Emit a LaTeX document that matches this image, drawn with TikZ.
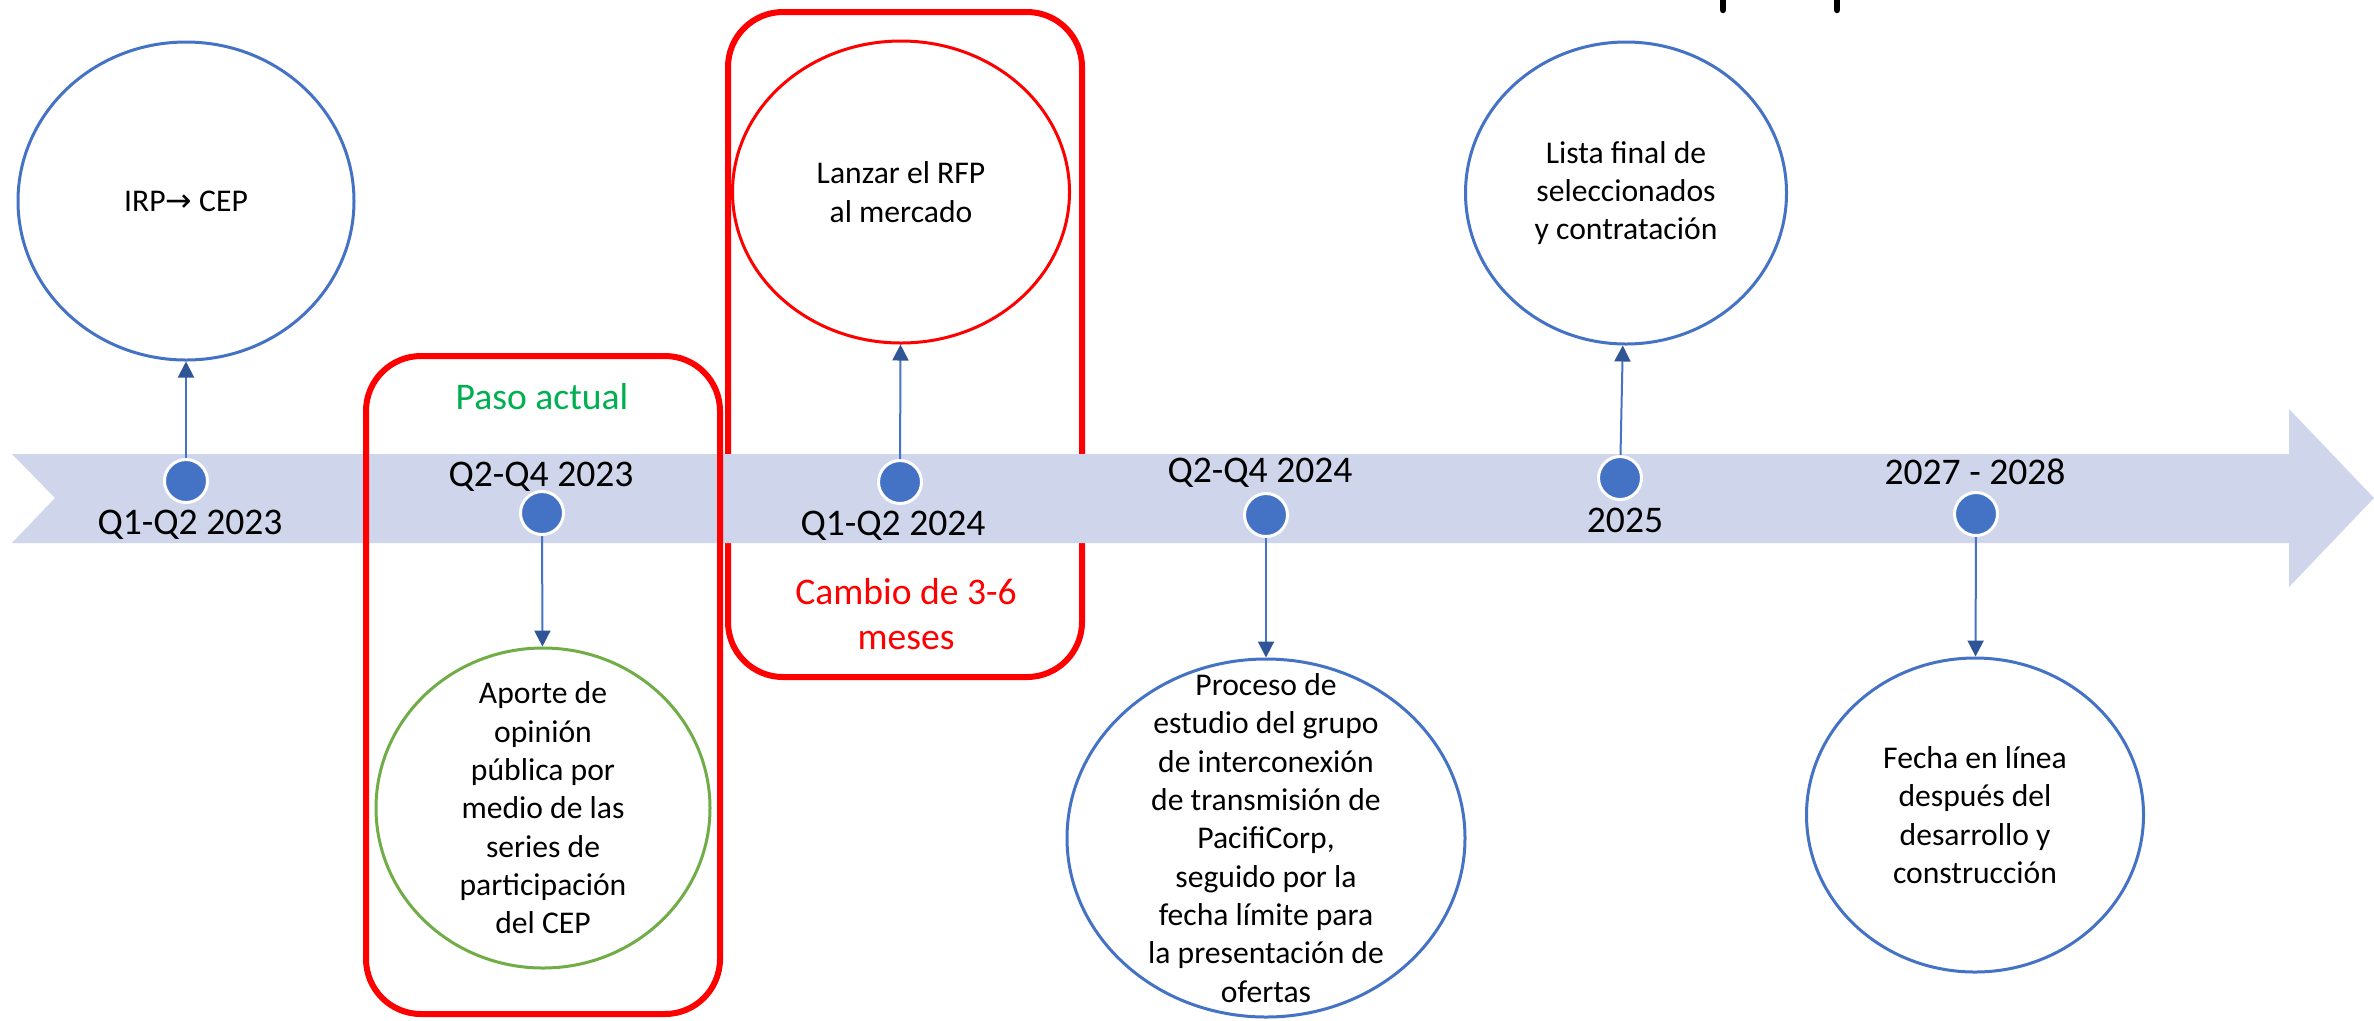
\documentclass[tikz,border=0pt]{standalone}
\usepackage{fontspec}
\setmainfont{Carlito}
\newfontfamily\djv{DejaVu Sans}
\usetikzlibrary{arrows.meta,shapes.geometric}
\definecolor{bandc}{HTML}{CFD5EA}
\definecolor{dotc}{HTML}{4472C4}
\definecolor{headc}{HTML}{2F5597}
\definecolor{redc}{HTML}{FF0000}
\definecolor{greenc}{HTML}{70AD47}
\definecolor{pasoc}{HTML}{00B050}
\begin{document}
\begin{tikzpicture}[x=0.1mm,y=-0.1mm,
  dotnode/.style={circle,fill=dotc,draw=white,line width=0.3mm,minimum size=4.3mm,inner sep=0pt},
  lbl/.style={anchor=base,inner sep=0pt,font=\fontsize{10.7}{12.8}\selectfont},
  ell/.style={ellipse,line width=0.3mm,inner sep=0pt},
  ctext/.style={align=center,inner sep=0pt,font=\fontsize{9}{10.9}\selectfont},
  conn/.style={draw=dotc,line width=0.2mm,-{Triangle[length=1.6mm,width=1.6mm,color=headc]}},
  redframe/.style={draw=redc,line width=0.6mm,rounded corners=5.5mm}]
\useasboundingbox (0,0) rectangle (2374,1020);
\fill[white] (0,0) rectangle (2374,1020);
% frame behind the band
\draw[redframe] (728,12) rectangle (1082,677);
% timeline band
\fill[bandc] (12,454) -- (2289,454) -- (2289,409) -- (2374,498) -- (2289,587)
  -- (2289,543) -- (12,543) -- (55,498) -- cycle;
% frame in front of the band
\draw[redframe] (366,356) rectangle (720,1014);
% cut-off strokes at the top
\draw[line width=0.65mm,line cap=round] (1723,-5) -- (1723,10);
\draw[line width=0.65mm,line cap=round] (1837,-5) -- (1837,10);
% dots
\node[dotnode] (d1) at (186,481) {};
\node[dotnode] (d2) at (542,513) {};
\node[dotnode] (d3) at (900,482) {};
\node[dotnode] (d4) at (1266,515) {};
\node[dotnode] (d5) at (1620,478) {};
\node[dotnode] (d6) at (1976,514) {};
% labels
\node[lbl] (l1) at (190,534) {Q1-Q2 2023};
\node[lbl] (l2) at (541,486) {Q2-Q4 2023};
\node[lbl] (l3) at (893,535) {Q1-Q2 2024};
\node[lbl] (l4) at (1260,482) {Q2-Q4 2024};
\node[lbl] (l5) at (1625,532) {2025};
\node[lbl] (l6) at (1975,484) {2027 - 2028};
\node[lbl,text=pasoc] (paso) at (542,409) {Paso actual};
\node[lbl,text=redc,align=center] (cambio) at (906,649) {Cambio de 3-6\\meses};
% ellipses
\node[ell,draw=dotc,minimum width=33.6mm,minimum height=31.8mm] (e1) at (186,201) {};
\node[ell,draw=greenc,minimum width=33.4mm,minimum height=32mm] (e2) at (543,808) {};
\node[ell,draw=redc,minimum width=33.7mm,minimum height=30.2mm] (e3) at (901,192) {};
\node[ell,draw=dotc,minimum width=39.8mm,minimum height=35.8mm] (e4) at (1266,838) {};
\node[ell,draw=dotc,minimum width=32.1mm,minimum height=30.2mm] (e5) at (1626,193) {};
\node[ell,draw=dotc,minimum width=33.7mm,minimum height=31.4mm] (e6) at (1975,815) {};
% ellipse texts
\node[ctext] (t1) at (e1) {IRP{\djv →} CEP};
\node[ctext] (t2) at (e2) {Aporte de\\opinión\\pública por\\medio de las\\series de\\participación\\del CEP};
\node[ctext] (t3) at (e3) {Lanzar el RFP\\al mercado};
\node[ctext] (t4) at (e4) {Proceso de\\estudio del grupo\\de interconexión\\de transmisión de\\PacifiCorp,\\seguido por la\\fecha límite para\\la presentación de\\ofertas};
\node[ctext] (t5) at (e5) {Lista final de\\seleccionados\\y contratación};
\node[ctext] (t6) at (e6) {Fecha en línea\\después del\\desarrollo y\\construcción};
% connectors
\draw[conn] (d1) -- (e1);
\draw[conn] (d2) -- (e2);
\draw[conn] (d3) -- (e3);
\draw[conn] (d4) -- (e4);
\draw[conn] (d5) -- (e5);
\draw[conn] (d6) -- (e6);
\end{tikzpicture}
\end{document}
